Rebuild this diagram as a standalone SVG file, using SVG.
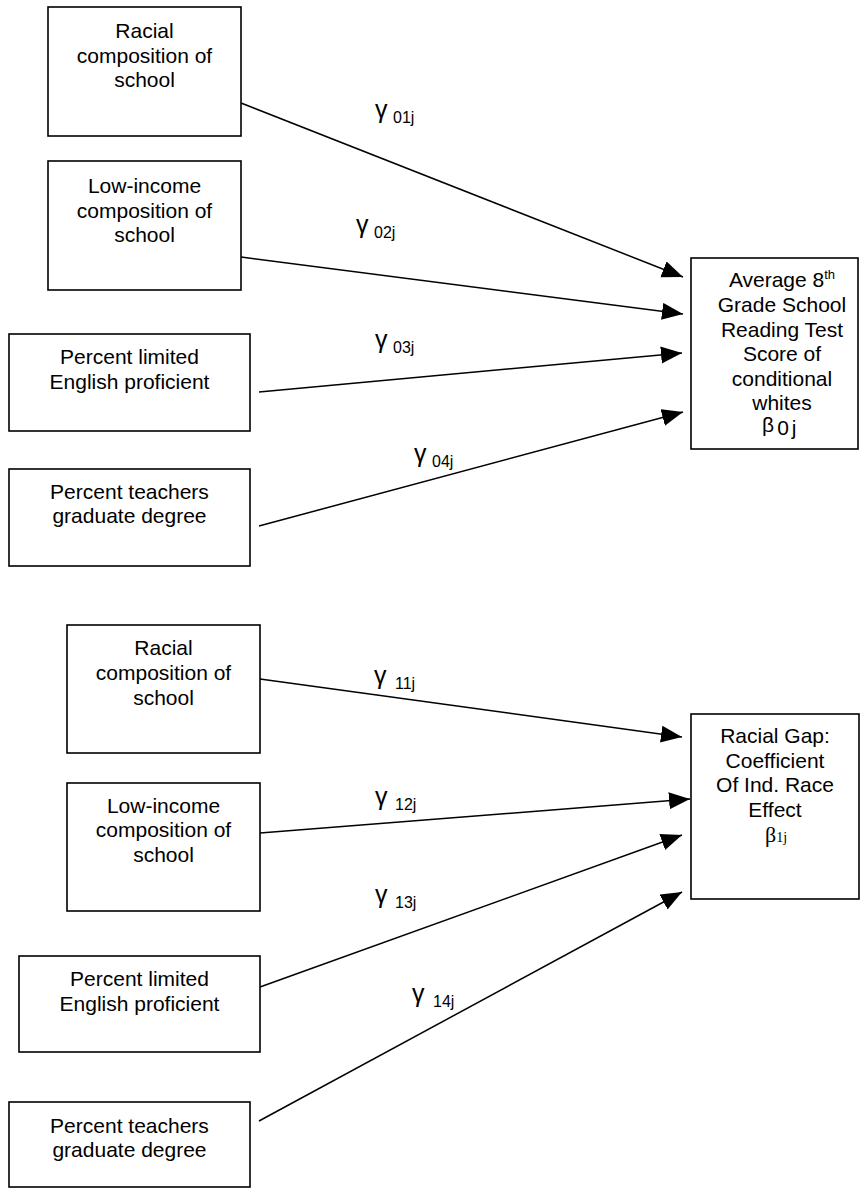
<svg xmlns="http://www.w3.org/2000/svg" width="867" height="1199" viewBox="0 0 867 1199">
<style>
.box{fill:#fff;stroke:#000;stroke-width:1.6}
.t{font-family:"Liberation Sans",Arial,sans-serif;font-size:21px;fill:#000;text-anchor:middle}
.g{font-family:"Liberation Sans",Arial,sans-serif;font-size:25px;fill:#000}
.s{font-family:"Liberation Sans",Arial,sans-serif;font-size:16px;fill:#000}
.c{stroke:#000;stroke-width:1.5;fill:none;marker-end:url(#ah)}
</style>
<defs>
<marker id="ah" markerUnits="userSpaceOnUse" markerWidth="22" markerHeight="18" refX="21" refY="8.5" orient="auto">
<path d="M0,0 L21,8.5 L0,17 z" fill="#000"/>
</marker>
</defs>
<rect width="867" height="1199" fill="#fff"/>
<g id="connectors">
<line class="c" x1="241" y1="103" x2="683" y2="277"/>
<line class="c" x1="241" y1="257" x2="683" y2="314"/>
<line class="c" x1="259" y1="392" x2="682" y2="353"/>
<line class="c" x1="259" y1="526" x2="683" y2="412"/>
<line class="c" x1="260" y1="679" x2="682" y2="737"/>
<line class="c" x1="260" y1="833" x2="690" y2="799"/>
<line class="c" x1="260" y1="987" x2="682" y2="835"/>
<line class="c" x1="259" y1="1121" x2="682" y2="892"/>
</g>
<g id="labels">
<text class="g" x="375" y="118">γ</text><text class="s" x="393" y="123">01j</text>
<text class="g" x="356" y="233">γ</text><text class="s" x="374" y="238">02j</text>
<text class="g" x="375" y="348">γ</text><text class="s" x="393" y="353">03j</text>
<text class="g" x="414" y="462">γ</text><text class="s" x="432" y="467">04j</text>
<text class="g" x="374" y="684">γ</text><text class="s" x="395" y="689">11j</text>
<text class="g" x="375" y="805">γ</text><text class="s" x="395" y="810">12j</text>
<text class="g" x="375" y="903">γ</text><text class="s" x="395" y="908">13j</text>
<text class="g" x="412" y="1002">γ</text><text class="s" x="433" y="1007">14j</text>
</g>
<g id="n1">
<rect class="box" x="48" y="7" width="193" height="129"/>
<text class="t" x="144.5" y="38">Racial</text>
<text class="t" x="144.5" y="62.5">composition of</text>
<text class="t" x="144.5" y="87">school</text>
</g>
<g id="n2">
<rect class="box" x="48" y="161" width="193" height="129"/>
<text class="t" x="144.5" y="193">Low-income</text>
<text class="t" x="144.5" y="217.5">composition of</text>
<text class="t" x="144.5" y="242">school</text>
</g>
<g id="n3">
<rect class="box" x="9" y="334" width="241" height="97"/>
<text class="t" x="129.5" y="364">Percent limited</text>
<text class="t" x="129.5" y="389">English proficient</text>
</g>
<g id="n4">
<rect class="box" x="9" y="469" width="241" height="97"/>
<text class="t" x="129.5" y="499">Percent teachers</text>
<text class="t" x="129.5" y="523">graduate degree</text>
</g>
<g id="n5">
<rect class="box" x="691" y="258" width="167" height="191"/>
<text class="t" x="782" y="287">Average 8<tspan font-size="13" dy="-8">th</tspan></text>
<text class="t" x="782" y="312">Grade School</text>
<text class="t" x="782" y="337">Reading Test</text>
<text class="t" x="782" y="361">Score of</text>
<text class="t" x="782" y="386">conditional</text>
<text class="t" x="782" y="410">whites</text>
<text class="t" x="768" y="432" font-size="23">β</text>
<text class="t" x="783" y="435" font-size="14">0</text>
<text class="t" x="794" y="435" font-size="14">j</text>
</g>
<g id="n6">
<rect class="box" x="67" y="625" width="193" height="128"/>
<text class="t" x="163.5" y="655">Racial</text>
<text class="t" x="163.5" y="680">composition of</text>
<text class="t" x="163.5" y="705">school</text>
</g>
<g id="n7">
<rect class="box" x="67" y="783" width="193" height="128"/>
<text class="t" x="163.5" y="813">Low-income</text>
<text class="t" x="163.5" y="837">composition of</text>
<text class="t" x="163.5" y="862">school</text>
</g>
<g id="n8">
<rect class="box" x="19" y="956" width="241" height="96"/>
<text class="t" x="139.5" y="986">Percent limited</text>
<text class="t" x="139.5" y="1011">English proficient</text>
</g>
<g id="n9">
<rect class="box" x="9" y="1102" width="241" height="85"/>
<text class="t" x="129.5" y="1133">Percent teachers</text>
<text class="t" x="129.5" y="1157">graduate degree</text>
</g>
<g id="n10">
<rect class="box" x="691" y="714" width="168" height="185"/>
<text class="t" x="775" y="743">Racial Gap:</text>
<text class="t" x="775" y="768">Coefficient</text>
<text class="t" x="775" y="792">Of Ind. Race</text>
<text class="t" x="775" y="817">Effect</text>
<text class="t" x="776" y="842" style="font-family:'Liberation Serif','Times New Roman',serif;font-size:22px">β<tspan font-size="14">1j</tspan></text>
</g>
</svg>
